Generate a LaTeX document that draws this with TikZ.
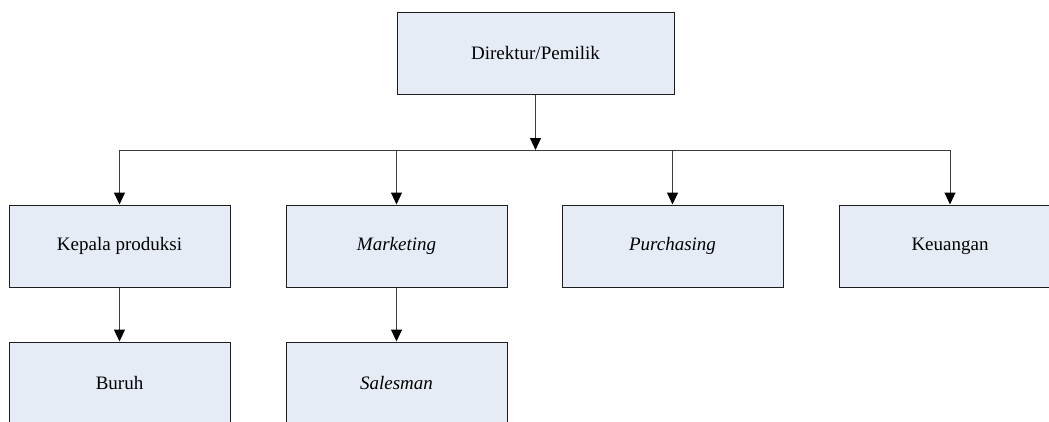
\documentclass[tikz,border=0pt]{standalone}
\usepackage{fontspec}
\setmainfont{Liberation Serif}
\usetikzlibrary{arrows.meta}
\definecolor{boxfill}{RGB}{230,236,246}
\definecolor{boxline}{RGB}{30,30,30}
\definecolor{conn}{RGB}{60,60,60}
\begin{document}
\begin{tikzpicture}[x=1pt,y=-1pt,
  orgbox/.style={draw=boxline,fill=boxfill,line width=1pt,minimum width=221pt,minimum height=82pt,inner sep=0pt,font=\fontsize{19}{23}\selectfont},
  topbox/.style={orgbox,minimum width=277pt},
  link/.style={draw=conn,line width=1pt},
  arr/.style={link,-{Triangle[width=11pt,length=12pt,color=black]}}]
\useasboundingbox (0,0) rectangle (1049,421);
\node[topbox] (dir) at (535.5,53) {Direktur/Pemilik};
\node[orgbox] (kp) at (119.5,246) {Kepala produksi};
\node[orgbox] (mk) at (396.5,246) {\textit{Marketing}};
\node[orgbox] (pu) at (672.5,246) {\textit{Purchasing}};
\node[orgbox] (ku) at (950,246) {Keuangan};
\node[orgbox] (bu) at (119.5,383) {Buruh};
\node[orgbox] (sa) at (396.5,383) {\textit{Salesman}};
\coordinate (bus) at (535.5,150);
\draw[arr] (dir.south) -- (bus);
\draw[link] (kp.north |- bus) -- (ku.north |- bus);
\draw[arr] (kp.north |- bus) -- (kp.north);
\draw[arr] (mk.north |- bus) -- (mk.north);
\draw[arr] (pu.north |- bus) -- (pu.north);
\draw[arr] (ku.north |- bus) -- (ku.north);
\draw[arr] (kp.south) -- (bu.north);
\draw[arr] (mk.south) -- (sa.north);
\end{tikzpicture}
\end{document}
